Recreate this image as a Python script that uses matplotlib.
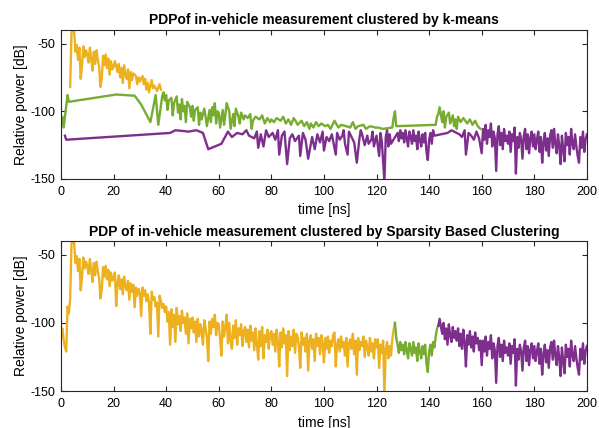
import numpy as np
import matplotlib
matplotlib.use("Agg")
import matplotlib.pyplot as plt

plt.rcParams['font.family'] = ['Liberation Sans', 'DejaVu Sans']
plt.rcParams['axes.unicode_minus'] = False

# sample grid of the PDP, 0.5 ns steps from 0 to 200 ns
time_ns = np.linspace(0, 200, 401)

pdp_db = [
    # 0 - 10 ns
    -110, -104, -112, -118, -121, -88, -93, -82, -42, -38,
    -41, -56, -51, -62, -53, -76, -66, -52, -60, -55,
    # 10 - 20
    -58, -64, -53, -61, -70, -56, -65, -55, -62, -67,
    -82, -76, -59, -66, -58, -68, -61, -73, -63, -69,
    # 20 - 30
    -67, -63, -87.6, -71, -65, -75, -68, -79, -66, -73,
    -76, -69, -83, -71, -77, -72, -88.5, -74, -80, -75,
    # 30 - 40
    -78, -95, -74, -80, -76, -84, -79, -86, -108, -77,
    -83, -81, -88, -85, -110, -80, -84, -89, -86, -92,
    # 40 - 50
    -88, -99, -92, -116, -90, -103, -94, -114, -89, -101,
    -95, -106, -91, -100, -96, -108, -93, -115, -97, -104,
    # 50 - 60
    -96, -107, -99, -114, -97, -110, -101, -106, -116, -98,
    -104, -111, -128, -99, -108, -97, -103, -94, -109, -100,
    # 60 - 70
    -101, -112, -124, -99, -110, -103, -94, -115, -100, -113,
    -119, -102, -111, -98, -116, -104, -109, -101, -117, -106,
    # 70 - 80
    -103, -114, -105, -118, -102, -113, -107, -120, -104, -115,
    -127, -106, -117, -103, -126, -109, -114, -105, -119, -108,
    # 80 - 90
    -106, -116, -108, -121, -105, -114, -132, -107, -118, -104,
    -115, -109, -139, -106, -120, -110, -117, -105, -122, -108,
    # 90 - 100
    -110, -118, -133, -107, -116, -111, -121, -108, -135, -113,
    -109, -119, -112, -128, -108, -117, -111, -123, -109, -115,
    # 100 - 110
    -129, -111, -119, -110, -122, -113, -117, -109, -107, -132,
    -116, -112, -121, -110, -118, -114, -124, -111, -132, -115,
    # 110 - 120
    -112, -119, -108, -123, -113, -138, -111, -120, -114, -117,
    -110, -125, -113, -118, -124, -111, -121, -115, -126, -112,
    # 120 - 130
    -118, -112, -133, -116, -122, -113, -152, -119, -114, -126,
    -117, -124, -112, -105, -100, -111, -116, -122, -114, -120,
    # 130 - 140
    -116, -123, -114, -120, -126, -115, -119, -124, -114, -122,
    -118, -128, -115, -121, -126, -117, -123, -116, -130, -136,
    # 140 - 150
    -121, -116, -124, -114, -118, -110, -104, -102, -97, -103,
    -108, -100, -112, -104, -116, -101, -109, -114, -103, -111,
    # 150 - 160
    -106, -113, -104, -117, -108, -119, -105, -114, -132, -109,
    -116, -106, -118, -110, -121, -107, -115, -111, -120, -113,
    # 160 - 170
    -131, -113, -121, -110, -124, -114, -119, -109, -126, -115,
    -120, -144, -117, -111, -125, -116, -128, -113, -122, -118,
    # 170 - 180
    -124, -115, -130, -117, -122, -112, -146, -119, -127, -116,
    -121, -135, -118, -113, -128, -117, -131, -120, -115, -126,
    # 180 - 190
    -117, -128, -121, -115, -130, -119, -138, -123, -116, -129,
    -120, -133, -118, -114, -127, -113, -124, -131, -117, -126,
    # 190 - 200
    -139, -118, -128, -137, -116, -125, -119, -132, -113, -124,
    -128, -117, -126, -133, -138, -119, -127, -115, -130, -121, -117,
]
pdp_db = np.array(pdp_db, dtype=float)

# cluster limits
kmeans_high_db = -87.5      # above: first cluster
kmeans_high_end_ns = 38.5
kmeans_low_db = -113.0      # below: last cluster
kmeans_low_start_ns = 160.0
sparsity_edges_ns = [127.0, 143.5]

titles = ["PDPof in-vehicle measurement clustered by k-means",
          "PDP of in-vehicle measurement clustered by Sparsity Based Clustering"]
colors = ["#EDB120", "#77AC30", "#7E2F8E"]

fig = plt.figure(figsize=(5.99, 4.28), dpi=100)
ax_top = fig.add_axes([0.1018, 0.5818, 0.878, 0.348])
ax_bot = fig.add_axes([0.1018, 0.0864, 0.878, 0.350])

# k-means clusters (points of a cluster joined in time order)
c1 = (pdp_db > kmeans_high_db) & (time_ns <= kmeans_high_end_ns)
c3 = ((pdp_db < kmeans_low_db) | (time_ns >= kmeans_low_start_ns)) & ~c1
c2 = ~c1 & ~c3
ax_top.plot(time_ns[c1], pdp_db[c1], color=colors[0], lw=1.7)
ax_top.plot(time_ns[c2], pdp_db[c2], color=colors[1], lw=1.7)
ax_top.plot(time_ns[c3], pdp_db[c3], color=colors[2], lw=1.7)

# sparsity based clusters: contiguous segments
e1, e2 = sparsity_edges_ns
s1 = time_ns <= e1
s2 = (time_ns >= e1) & (time_ns <= e2)
s3 = time_ns >= e2
ax_bot.plot(time_ns[s1], pdp_db[s1], color=colors[0], lw=1.7)
ax_bot.plot(time_ns[s2], pdp_db[s2], color=colors[1], lw=1.7)
ax_bot.plot(time_ns[s3], pdp_db[s3], color=colors[2], lw=1.7)

for ax, title in zip([ax_top, ax_bot], titles):
    ax.set_xlim(0, 200)
    ax.set_ylim(-150, -40)
    ax.set_xticks(np.arange(0, 201, 20))
    ax.set_yticks([-150, -100, -50])
    ax.tick_params(direction="in", top=True, right=True, length=3.5,
                   width=0.8, labelsize=9, colors="#262626",
                   labelcolor="black")
    ax.tick_params(axis="x", pad=5)
    ax.tick_params(axis="y", pad=4)
    for sp in ax.spines.values():
        sp.set_linewidth(0.8)
        sp.set_color("#262626")
    ax.set_title(title, fontsize=10, fontweight="bold", pad=4)
    ax.set_xlabel("time [ns]", fontsize=10, labelpad=4)
    ax.set_ylabel("Relative power [dB]", fontsize=10, labelpad=2)

fig.savefig("out.png", dpi=100)
